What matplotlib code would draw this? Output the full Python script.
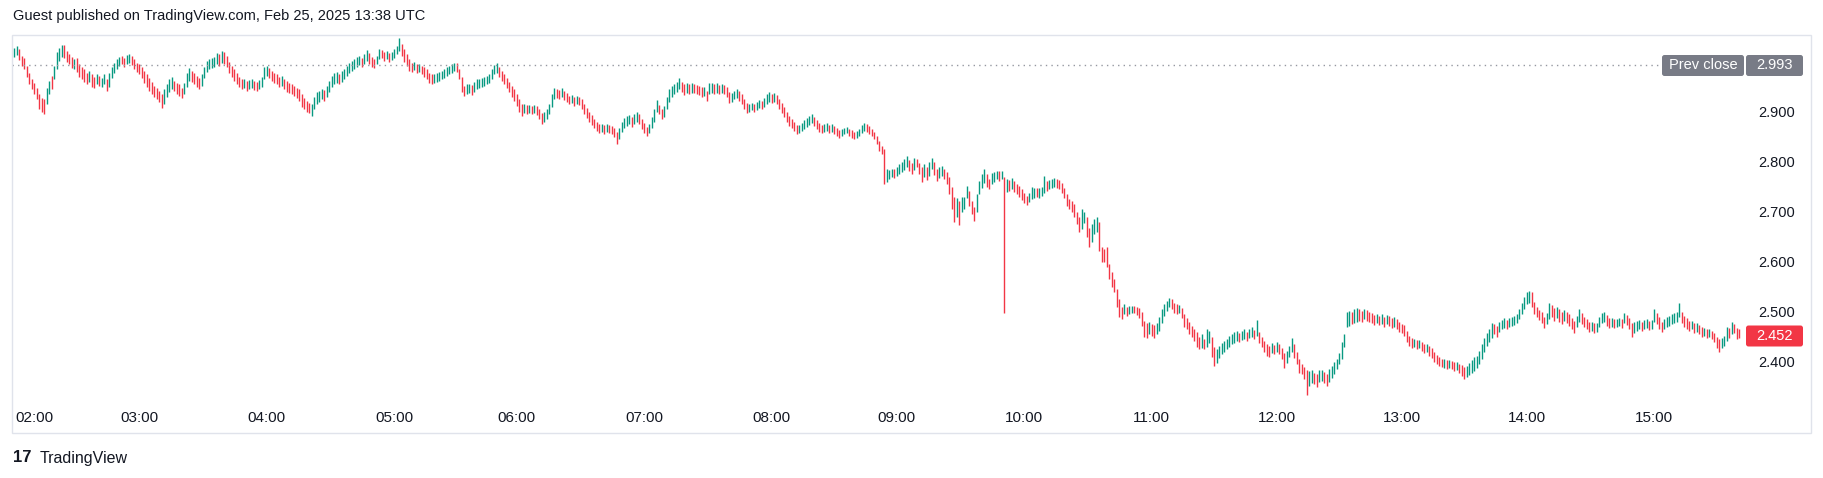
import matplotlib
matplotlib.use("Agg")
import matplotlib.pyplot as plt
from matplotlib.patches import FancyBboxPatch, Rectangle
from matplotlib.transforms import IdentityTransform
import numpy as np

plt.rcParams['font.family'] = ['Liberation Sans', 'DejaVu Sans']

title = "Guest published on TradingView.com, Feb 25, 2025 13:38 UTC"
prev_close = 2.993
last_price = 2.452
price_ticks = [2.4, 2.5, 2.6, 2.7, 2.8, 2.9]
hour_labels = ["02:00", "03:00", "04:00", "05:00", "06:00", "07:00", "08:00",
               "09:00", "10:00", "11:00", "12:00", "13:00", "14:00", "15:00"]
hour_bars = [8, 50, 101, 152, 201, 252, 303, 353, 404, 455, 505, 555, 605, 656]

# bar lows / highs in thousandths, u = up bar, d = down bar
bar_low = [
    3010, 3014, 3003, 2992, 2986, 2970, 2955, 2945, 2935, 2925,
    2905, 2900, 2896, 2915, 2935, 2945, 2965, 2985, 3002, 3010,
    3008, 3000, 2995, 2988, 2985, 2980, 2970, 2965, 2960, 2955,
    2960, 2950, 2948, 2955, 2952, 2950, 2955, 2942, 2950, 2968,
    2978, 2985, 2992, 2995, 2990, 2995, 2998, 2993, 2985, 2980,
    2975, 2968, 2958, 2950, 2942, 2935, 2930, 2925, 2920, 2907,
    2915, 2930, 2940, 2945, 2942, 2935, 2932, 2927, 2935, 2950,
    2962, 2960, 2955, 2950, 2946, 2952, 2968, 2980, 2985, 2988,
    2990, 2995, 2992, 2998, 2996, 2990, 2978, 2970, 2962, 2955,
    2950, 2945, 2948, 2942, 2945, 2948, 2944, 2942, 2946, 2950,
    2965, 2972, 2968, 2962, 2958, 2955, 2950, 2952, 2945, 2940,
    2938, 2935, 2932, 2928, 2922, 2910, 2905, 2900, 2898, 2891,
    2905, 2915, 2920, 2925, 2922, 2930, 2940, 2950, 2955, 2958,
    2955, 2960, 2965, 2972, 2978, 2982, 2985, 2990, 2994, 2990,
    2996, 3002, 2995, 2990, 2988, 2995, 3005, 3008, 3002, 3005,
    3000, 3004, 3008, 3015, 3022, 3012, 3000, 2992, 2982, 2980,
    2984, 2978, 2980, 2975, 2970, 2965, 2958, 2955, 2958, 2960,
    2962, 2965, 2968, 2972, 2975, 2978, 2982, 2980, 2965, 2940,
    2932, 2935, 2938, 2934, 2940, 2945, 2948, 2950, 2952, 2955,
    2958, 2965, 2975, 2978, 2970, 2962, 2955, 2948, 2940, 2930,
    2922, 2912, 2900, 2892, 2898, 2895, 2898, 2896, 2898, 2894,
    2885, 2875, 2880, 2885, 2895, 2910, 2925, 2928, 2925, 2930,
    2924, 2920, 2915, 2918, 2912, 2916, 2914, 2905, 2895, 2888,
    2880, 2874, 2868, 2862, 2858, 2860, 2856, 2860, 2858, 2855,
    2850, 2836, 2845, 2860, 2868, 2872, 2875, 2870, 2875, 2880,
    2875, 2866, 2858, 2852, 2858, 2868, 2880, 2900, 2895, 2885,
    2890, 2905, 2920, 2930, 2935, 2940, 2945, 2940, 2934, 2938,
    2936, 2938, 2937, 2935, 2934, 2930, 2932, 2921, 2935, 2938,
    2936, 2938, 2935, 2937, 2936, 2930, 2918, 2920, 2925, 2928,
    2922, 2915, 2905, 2898, 2900, 2903, 2900, 2904, 2908, 2905,
    2910, 2915, 2920, 2918, 2920, 2915, 2905, 2898, 2890, 2880,
    2872, 2868, 2862, 2856, 2858, 2862, 2866, 2870, 2874, 2878,
    2872, 2866, 2860, 2858, 2860, 2862, 2858, 2860, 2855, 2852,
    2848, 2852, 2855, 2858, 2852, 2848, 2845, 2848, 2852, 2858,
    2862, 2860, 2856, 2852, 2845, 2835, 2822, 2815, 2756, 2760,
    2766, 2770, 2768, 2772, 2776, 2780, 2784, 2790, 2782, 2776,
    2784, 2790, 2775, 2760, 2770, 2764, 2772, 2785, 2774, 2762,
    2768, 2772, 2766, 2755, 2735, 2705, 2680, 2690, 2674, 2700,
    2705, 2728, 2712, 2695, 2682, 2700, 2735, 2748, 2758, 2750,
    2745, 2755, 2760, 2765, 2762, 2766, 2497, 2740, 2742, 2745,
    2740, 2735, 2730, 2724, 2718, 2714, 2720, 2726, 2728, 2730,
    2728, 2732, 2738, 2742, 2745, 2748, 2750, 2748, 2746, 2738,
    2728, 2712, 2705, 2700, 2690, 2675, 2660, 2665, 2678, 2650,
    2630, 2640, 2655, 2660, 2622, 2600, 2600, 2590, 2565, 2550,
    2540, 2510, 2490, 2485, 2495, 2492, 2496, 2498, 2497, 2494,
    2488, 2472, 2450, 2448, 2455, 2452, 2448, 2455, 2462, 2478,
    2492, 2502, 2510, 2505, 2498, 2495, 2498, 2488, 2470, 2465,
    2455, 2450, 2442, 2430, 2425, 2428, 2426, 2430, 2438, 2410,
    2392, 2398, 2408, 2415, 2420, 2425, 2430, 2435, 2438, 2442,
    2440, 2443, 2445, 2442, 2448, 2450, 2446, 2452, 2438, 2430,
    2420, 2412, 2410, 2418, 2415, 2420, 2416, 2405, 2388, 2398,
    2410, 2420, 2408, 2395, 2378, 2375, 2366, 2334, 2352, 2358,
    2355, 2350, 2360, 2362, 2358, 2352, 2360, 2368, 2375, 2385,
    2395, 2405, 2430, 2470, 2472, 2475, 2478, 2480, 2482, 2480,
    2485, 2482, 2480, 2478, 2474, 2478, 2473, 2476, 2470, 2475,
    2472, 2468, 2470, 2465, 2460, 2458, 2452, 2440, 2432, 2428,
    2430, 2425, 2428, 2422, 2418, 2420, 2412, 2408, 2400, 2395,
    2392, 2390, 2388, 2386, 2388, 2385, 2382, 2384, 2378, 2372,
    2365, 2370, 2374, 2378, 2382, 2388, 2395, 2405, 2420, 2432,
    2440, 2448, 2455, 2450, 2460, 2465, 2468, 2466, 2470, 2472,
    2474, 2478, 2485, 2495, 2505, 2515, 2518, 2510, 2495, 2490,
    2484, 2478, 2468, 2475, 2485, 2490, 2482, 2488, 2480, 2476,
    2482, 2478, 2472, 2465, 2458, 2470, 2480, 2476, 2470, 2465,
    2460, 2462, 2458, 2460, 2470, 2478, 2480, 2472, 2468, 2470,
    2467, 2470, 2472, 2468, 2478, 2474, 2465, 2450, 2458, 2462,
    2466, 2462, 2465, 2468, 2464, 2466, 2480, 2475, 2465, 2460,
    2466, 2470, 2472, 2476, 2478, 2480, 2490, 2478, 2470, 2465,
    2462, 2465, 2458, 2460, 2455, 2450, 2452, 2448, 2450, 2445,
    2440, 2428, 2420, 2428, 2432, 2442, 2448, 2455, 2458, 2445, 2448,
]
bar_high = [
    3028, 3031, 3026, 3012, 3008, 2992, 2978, 2966, 2958, 2948,
    2935, 2928, 2925, 2948, 2962, 2972, 2992, 3020, 3028, 3034,
    3033, 3022, 3015, 3010, 3005, 3008, 2995, 2990, 2985, 2978,
    2982, 2975, 2970, 2975, 2972, 2968, 2975, 2965, 2978, 2990,
    2998, 3005, 3010, 3012, 3008, 3014, 3016, 3012, 3005, 2998,
    2995, 2990, 2982, 2975, 2968, 2960, 2952, 2948, 2942, 2935,
    2945, 2955, 2965, 2970, 2962, 2958, 2955, 2948, 2958, 2978,
    2988, 2982, 2978, 2972, 2968, 2975, 2990, 3002, 3005, 3007,
    3010, 3018, 3016, 3022, 3020, 3012, 3000, 2992, 2985, 2978,
    2970, 2965, 2966, 2962, 2964, 2965, 2962, 2960, 2963, 2970,
    2990, 2992, 2988, 2982, 2978, 2975, 2970, 2972, 2965, 2962,
    2958, 2955, 2952, 2948, 2945, 2935, 2928, 2922, 2918, 2915,
    2930, 2940, 2942, 2946, 2944, 2952, 2962, 2972, 2978, 2980,
    2976, 2982, 2986, 2992, 2998, 3002, 3006, 3010, 3012, 3008,
    3016, 3024, 3018, 3010, 3006, 3012, 3025, 3024, 3020, 3022,
    3018, 3020, 3026, 3032, 3047, 3035, 3025, 3015, 3005, 2998,
    3000, 2995, 2996, 2992, 2990, 2985, 2978, 2975, 2975, 2978,
    2980, 2982, 2985, 2990, 2992, 2995, 2997, 2997, 2985, 2970,
    2952, 2955, 2956, 2954, 2960, 2965, 2966, 2968, 2970, 2972,
    2975, 2985, 2994, 2997, 2990, 2982, 2975, 2968, 2960, 2952,
    2945, 2935, 2925, 2915, 2915, 2914, 2914, 2912, 2914, 2912,
    2905, 2898, 2900, 2905, 2915, 2935, 2947, 2946, 2944, 2947,
    2942, 2938, 2932, 2934, 2930, 2932, 2930, 2925, 2915, 2908,
    2900, 2894, 2886, 2880, 2876, 2875, 2874, 2876, 2874, 2872,
    2868, 2860, 2868, 2880, 2888, 2892, 2893, 2890, 2895, 2900,
    2895, 2886, 2878, 2870, 2876, 2890, 2905, 2924, 2914, 2905,
    2912, 2930, 2945, 2952, 2955, 2960, 2968, 2960, 2955, 2957,
    2956, 2958, 2956, 2954, 2952, 2950, 2950, 2941, 2957, 2958,
    2955, 2957, 2954, 2955, 2954, 2950, 2940, 2938, 2942, 2946,
    2942, 2935, 2925, 2918, 2916, 2918, 2916, 2920, 2924, 2922,
    2928, 2936, 2940, 2936, 2937, 2934, 2925, 2918, 2910, 2900,
    2892, 2886, 2880, 2874, 2874, 2878, 2884, 2888, 2892, 2896,
    2890, 2884, 2878, 2874, 2876, 2877, 2874, 2875, 2872, 2868,
    2864, 2866, 2868, 2870, 2866, 2863, 2860, 2862, 2866, 2873,
    2877, 2875, 2872, 2866, 2860, 2852, 2842, 2832, 2826, 2785,
    2784, 2786, 2785, 2790, 2795, 2800, 2805, 2812, 2804, 2798,
    2808, 2806, 2798, 2790, 2795, 2790, 2800, 2808, 2800, 2785,
    2790, 2792, 2785, 2780, 2770, 2750, 2730, 2728, 2722, 2730,
    2730, 2752, 2742, 2722, 2710, 2735, 2762, 2775, 2785, 2775,
    2765, 2778, 2780, 2782, 2782, 2782, 2770, 2765, 2764, 2768,
    2762, 2756, 2752, 2745, 2738, 2732, 2738, 2750, 2748, 2748,
    2748, 2750, 2772, 2762, 2764, 2766, 2768, 2766, 2764, 2758,
    2748, 2735, 2725, 2722, 2715, 2700, 2690, 2705, 2700, 2690,
    2668, 2675, 2685, 2690, 2680, 2630, 2625, 2630, 2595, 2580,
    2565, 2545, 2525, 2510, 2515, 2510, 2512, 2511, 2512, 2510,
    2508, 2500, 2482, 2478, 2480, 2476, 2474, 2478, 2490, 2505,
    2515, 2522, 2528, 2525, 2518, 2515, 2514, 2508, 2495, 2488,
    2480, 2472, 2465, 2460, 2450, 2455, 2446, 2465, 2462, 2450,
    2430, 2425, 2432, 2438, 2442, 2446, 2452, 2456, 2460, 2462,
    2458, 2462, 2465, 2460, 2466, 2470, 2464, 2484, 2460, 2450,
    2442, 2435, 2432, 2438, 2434, 2440, 2436, 2428, 2418, 2422,
    2432, 2448, 2436, 2420, 2405, 2395, 2390, 2384, 2382, 2384,
    2378, 2376, 2384, 2384, 2380, 2375, 2385, 2392, 2400, 2405,
    2418, 2440, 2455, 2500, 2502, 2500, 2505, 2507, 2505, 2502,
    2505, 2503, 2500, 2497, 2494, 2496, 2492, 2495, 2490, 2494,
    2492, 2488, 2489, 2485, 2480, 2476, 2474, 2462, 2452, 2448,
    2446, 2444, 2444, 2440, 2436, 2436, 2432, 2428, 2420, 2414,
    2410, 2406, 2406, 2403, 2404, 2402, 2400, 2400, 2396, 2394,
    2390, 2392, 2398, 2404, 2410, 2412, 2422, 2435, 2448, 2458,
    2465, 2478, 2475, 2472, 2480, 2484, 2488, 2484, 2488, 2490,
    2492, 2496, 2505, 2518, 2530, 2540, 2541, 2540, 2520, 2510,
    2504, 2500, 2490, 2498, 2517, 2514, 2508, 2510, 2505, 2500,
    2503, 2500, 2495, 2488, 2482, 2492, 2505, 2498, 2490, 2486,
    2480, 2480, 2477, 2478, 2490, 2497, 2500, 2494, 2488, 2487,
    2485, 2486, 2488, 2486, 2498, 2494, 2488, 2478, 2480, 2482,
    2484, 2480, 2483, 2485, 2482, 2484, 2505, 2498, 2490, 2480,
    2485, 2490, 2492, 2495, 2497, 2500, 2517, 2500, 2492, 2488,
    2482, 2482, 2478, 2477, 2474, 2470, 2468, 2466, 2466, 2462,
    2458, 2450, 2445, 2448, 2452, 2470, 2468, 2480, 2476, 2468, 2466,
]
bar_dir = (
    "uudddddddd" "ddduuduuuu" "dddduddddd" "udduduuduu" "uuudduuddd"
    "dddddddddd" "uuuudddduu" "udddduuuuu" "uududddddd" "dduduudduu"
    "uudddddudd" "dddddddddu" "uuuuduuuuu" "duuuuuuuud" "uuddduuddu"
    "duuuuddddd" "ududdddduu" "uuuuuuuddd" "duuduuuuuu" "uuuudddddd"
    "ddddududud" "dduuuuuddu" "dddududddd" "dddddududd" "dduuuuuduu"
    "dddduuuudd" "uuuuuuuddu" "dudddduduu" "dududdduuu" "dddduuduud"
    "uuududdddd" "dddduuuuuu" "dddduududd" "duuuddduuu" "uddddddddu"
    "uuduuuuudd" "uddduduudd" "uudddddudu" "uuddduuuud" "duuudududu"
    "dddddduuud" "uuuduuuddd" "ddddddduud" "duuudddddd" "dddduduudd"
    "ddddudduuu" "uuuddduddd" "ddddduduud" "duuuuuuuuu" "duuduududd"
    "dddududddu" "uudddddduu" "dduudduuuu" "uuuuuduudd" "uddddududu"
    "dduddddddd" "ududdudddd" "ddududdudd" "duuuuuuuuu" "uudduuuduu"
    "uuuuuuuddd" "ddduuddudd" "udddduuddd" "duduuuuddu" "duududdduu"
    "uduuduuddd" "uuuuuuuddd" "dududdudud" "ddduuududdd"
)

n = min(len(bar_low), len(bar_high), len(bar_dir))
low = np.array(bar_low[:n]) / 1000
high = np.array(bar_high[:n]) / 1000
up = np.array([c == 'u' for c in bar_dir[:n]])
x = np.arange(n)

W, H = 1824, 478
fig = plt.figure(figsize=(W / 100, H / 100), dpi=100)
fig.patch.set_facecolor('white')
ax = fig.add_axes([12 / W, 1 - 400 / H, (1745 - 12) / W, (400 - 35) / H])
ax.set_facecolor('none')

ax.vlines(x[up], low[up], high[up], color='#089981', lw=1.0)
ax.vlines(x[~up], low[~up], high[~up], color='#f23645', lw=1.0)

ax.set_xlim(-0.8, 692.4)
ax.set_ylim(2.324, 3.054)
for s in ax.spines.values():
    s.set_visible(False)

ax.set_xticks(hour_bars, hour_labels)
ax.set_yticks(price_ticks, [f"{p:.3f}" for p in price_ticks])
ax.yaxis.tick_right()
ax.tick_params(axis='both', length=0, labelcolor='#131722')
ax.tick_params(axis='x', pad=8, labelsize=11)
ax.tick_params(axis='y', pad=9.5, labelsize=10.5)

# previous close dotted line
ax.axhline(prev_close, xmin=0, xmax=(1662 - 12) / (1745 - 12), color='#9598a1',
           lw=1, ls=(0, (1, 3)))

ident = IdentityTransform()


def price_y(p):
    return ax.transData.transform((0, p))[1]


def label_box(x0, w, yc, text, color):
    box = FancyBboxPatch((x0, yc - 10.5), w, 21, boxstyle="round,pad=0,rounding_size=2.5",
                         transform=ident, fc=color, ec='none')
    fig.add_artist(box)
    fig.text(x0 + w / 2, yc, text, transform=ident, ha='center', va='center',
             color='white', fontsize=10.5)


yc = price_y(prev_close)
label_box(1662, 82, yc, "Prev close", '#787b86')
label_box(1746, 57, yc, f"{prev_close:.3f}", '#787b86')
label_box(1746, 57, price_y(last_price), f"{last_price:.3f}", '#f23645')

# outer frame
fig.add_artist(Rectangle((12, H - 433), 1799, 398, transform=ident, fill=False,
                         ec='#e0e3eb', lw=1))

fig.text(13, H - 16, title, transform=ident, ha='left', va='center',
         color='#131722', fontsize=10.5)
fig.text(13, H - 458, "17", transform=ident, ha='left', va='center',
         color='#131722', fontsize=12, fontweight='bold')
fig.text(40, H - 458, "TradingView", transform=ident, ha='left', va='center',
         color='#131722', fontsize=11.5)

fig.savefig("out.png", dpi=100, facecolor='white')
